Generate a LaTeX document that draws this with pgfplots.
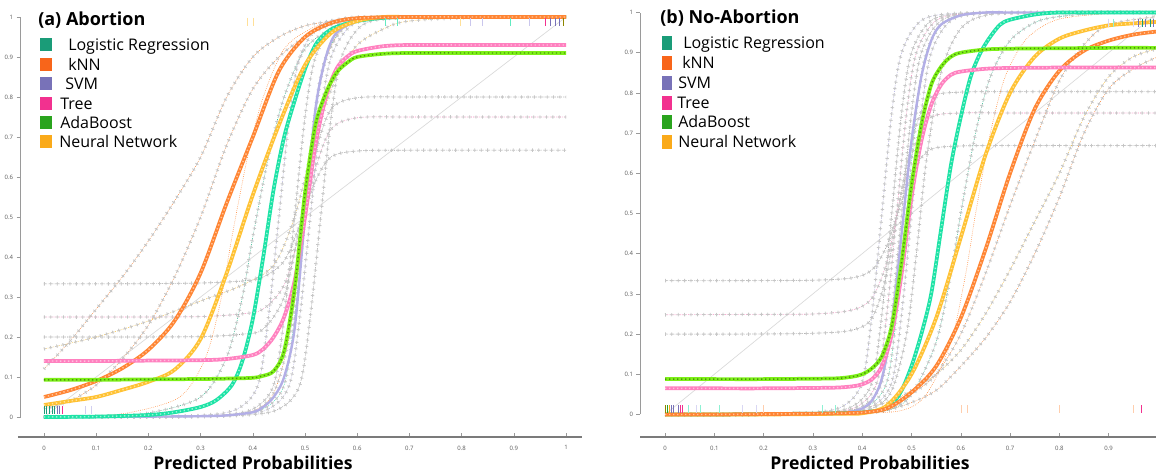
\documentclass[border=0pt]{standalone}
\usepackage{fontspec}
\setmainfont{Open Sans}
\usepackage{pgfplots}
\usepackage{pgfplotstable}
\pgfplotsset{compat=1.18}

\definecolor{lrC}{HTML}{1DE3A6}
\definecolor{knnC}{HTML}{FF8533}
\definecolor{svmC}{HTML}{B3AFE6}
\definecolor{treeC}{HTML}{FF80BF}
\definecolor{adaC}{HTML}{7DF018}
\definecolor{nnC}{HTML}{FFC233}
\definecolor{lrL}{HTML}{1A9C78}
\definecolor{knnL}{HTML}{F8651A}
\definecolor{svmL}{HTML}{7872B8}
\definecolor{treeL}{HTML}{F2318F}
\definecolor{adaL}{HTML}{2AA41E}
\definecolor{nnL}{HTML}{FAAA1A}
\definecolor{axisgray}{HTML}{9A9A9A}

\tikzset{
  gcurve/.style={smooth,tension=0.5,line width=0.45pt,densely dotted,
     postaction={draw=gray!45,solid,line width=2.6pt,dash pattern=on 0.6pt off 4.2pt},
     postaction={draw=gray!45,solid,line width=0.6pt,dash pattern=on 2.6pt off 2.2pt,dash phase=1pt}},
  thincurve/.style={smooth,tension=0.5,line width=0.45pt,densely dotted},
  maincurve/.style={smooth,tension=0.5,line width=2.8pt},
  dots/.style={smooth,tension=0.5,line width=1.1pt,dash pattern=on 1pt off 2pt},
}

\pgfplotsset{
  calib/.style={
    scale only axis,
    clip=false,
    axis line style={draw=none},
    ytick={0,0.1,...,1},
    tick pos=left,
    tick align=inside,
    major tick length=3pt,
    tick style={axisgray,line width=0.4pt},
    y tick style={xshift=-3pt},
    tick label style={font=\fontsize{4.5}{5}\selectfont,text=gray!70!black},
    yticklabel style={xshift=-2pt},
    xticklabel style={yshift=-3pt},
    /pgf/number format/assume math mode=true,
  }
}

% ---------- (a) Abortion ----------
\pgfplotstableread{
x y
0 0
0.1 0.001
0.2 0.005
0.25 0.012
0.3 0.025
0.33 0.042
0.36 0.08
0.38 0.14
0.4 0.245
0.42 0.4
0.44 0.57
0.46 0.7
0.48 0.79
0.5 0.87
0.52 0.93
0.54 0.96
0.56 0.975
0.6 0.99
0.65 0.998
0.7 1
0.8 1
0.9 1
1 1
}\lrA
\pgfplotstableread{
x y
0 0.05
0.05 0.067
0.1 0.09
0.15 0.122
0.2 0.168
0.25 0.24
0.3 0.36
0.35 0.535
0.4 0.7
0.45 0.865
0.5 0.95
0.55 0.985
0.6 0.997
0.7 1
0.8 1
0.9 1
1 1
}\knnA
\pgfplotstableread{
x y
0 0
0.1 0
0.2 0.001
0.3 0.002
0.35 0.004
0.4 0.012
0.42 0.025
0.44 0.05
0.46 0.1
0.48 0.22
0.5 0.5
0.52 0.77
0.54 0.9
0.56 0.96
0.6 0.99
0.65 1
0.7 1
0.8 1
0.9 1
1 1
}\svmA
\pgfplotstableread{
x y
0 0.14
0.1 0.14
0.2 0.141
0.3 0.142
0.35 0.145
0.4 0.155
0.42 0.17
0.44 0.2
0.46 0.25
0.48 0.34
0.5 0.5
0.52 0.68
0.54 0.8
0.56 0.87
0.58 0.9
0.6 0.915
0.65 0.927
0.7 0.93
0.8 0.93
0.9 0.93
1 0.93
}\treeA
\pgfplotstableread{
x y
0 0.093
0.1 0.093
0.2 0.094
0.3 0.095
0.35 0.096
0.4 0.098
0.42 0.103
0.44 0.115
0.46 0.165
0.48 0.32
0.5 0.56
0.52 0.73
0.54 0.81
0.56 0.86
0.58 0.885
0.6 0.9
0.65 0.908
0.7 0.91
0.8 0.91
0.9 0.91
1 0.91
}\adaA
\pgfplotstableread{
x y
0 0.03
0.05 0.04
0.1 0.05
0.15 0.068
0.2 0.088
0.25 0.118
0.3 0.195
0.35 0.36
0.4 0.555
0.45 0.73
0.5 0.88
0.55 0.96
0.6 0.99
0.65 1
0.7 1
0.8 1
0.9 1
1 1
}\nnA

% ---------- (b) No-Abortion ----------
\pgfplotstableread{
x y
0 0
0.1 0
0.2 0.001
0.3 0.002
0.35 0.003
0.4 0.005
0.42 0.008
0.44 0.012
0.46 0.025
0.48 0.06
0.5 0.12
0.52 0.2
0.54 0.3
0.56 0.46
0.58 0.62
0.6 0.74
0.62 0.84
0.64 0.9
0.66 0.94
0.68 0.97
0.7 0.982
0.75 0.995
0.8 1
0.9 1
1 1
}\lrB
\pgfplotstableread{
x y
0 0
0.1 0
0.2 0.001
0.3 0.002
0.35 0.003
0.4 0.005
0.45 0.015
0.5 0.055
0.55 0.12
0.6 0.24
0.65 0.41
0.7 0.6
0.75 0.76
0.8 0.855
0.85 0.905
0.9 0.93
0.95 0.945
1 0.953
}\knnB
\pgfplotstableread{
x y
0 0
0.1 0
0.2 0
0.3 0.002
0.35 0.004
0.38 0.008
0.4 0.015
0.42 0.035
0.44 0.09
0.46 0.22
0.48 0.45
0.5 0.68
0.52 0.84
0.54 0.93
0.56 0.97
0.6 0.993
0.65 1
0.7 1
0.8 1
0.9 1
1 1
}\svmB
\pgfplotstableread{
x y
0 0.065
0.1 0.065
0.2 0.065
0.3 0.066
0.35 0.067
0.38 0.07
0.4 0.075
0.42 0.088
0.44 0.12
0.46 0.2
0.48 0.35
0.5 0.54
0.52 0.68
0.54 0.77
0.56 0.82
0.58 0.845
0.6 0.853
0.65 0.86
0.7 0.862
0.8 0.863
0.9 0.863
1 0.863
}\treeB
\pgfplotstableread{
x y
0 0.088
0.1 0.088
0.2 0.088
0.3 0.089
0.35 0.09
0.38 0.094
0.4 0.1
0.42 0.115
0.44 0.145
0.46 0.22
0.48 0.38
0.5 0.57
0.52 0.72
0.54 0.82
0.56 0.865
0.58 0.89
0.6 0.9
0.65 0.908
0.7 0.91
0.8 0.911
0.9 0.912
1 0.912
}\adaB
\pgfplotstableread{
x y
0 0
0.1 0
0.2 0
0.3 0.001
0.35 0.002
0.4 0.003
0.45 0.022
0.5 0.1
0.55 0.24
0.6 0.44
0.65 0.645
0.7 0.8
0.75 0.89
0.8 0.935
0.85 0.955
0.9 0.968
0.95 0.973
1 0.977
}\nnB

\begin{document}
\begin{tikzpicture}
\useasboundingbox (0,0) rectangle (867pt,356.25pt);

% ================= panel (a) =================
\begin{axis}[calib,
  at={(15.375pt,28.5pt)}, anchor=south west,
  width=420.9pt, height=321pt,
  xtick={0,0.1,...,1},
  xmin=-0.045, xmax=1.03, ymin=-0.05, ymax=1.02]
\draw[axisgray,line width=0.6pt] (axis cs:-0.045,0) -- (axis cs:-0.045,1);
\draw[axisgray!80!black,line width=0.8pt] (axis cs:-0.05,-0.05) -- (axis cs:1.03,-0.05);
\addplot[gray!30,line width=0.5pt] coordinates {(0,0) (1,1)};
% per-fold curves
\addplot[gcurve,gray!80] coordinates {(0,0.333) (0.15,0.333) (0.3,0.335) (0.38,0.34) (0.42,0.35) (0.46,0.39) (0.49,0.48) (0.52,0.59) (0.55,0.65) (0.6,0.665) (0.7,0.667) (0.85,0.667) (1,0.667)};
\addplot[gcurve,treeC] coordinates {(0,0.25) (0.15,0.25) (0.3,0.251) (0.38,0.258) (0.42,0.27) (0.46,0.33) (0.49,0.46) (0.52,0.62) (0.55,0.72) (0.6,0.748) (0.7,0.75) (0.85,0.75) (1,0.75)};
\addplot[gcurve,gray!80] coordinates {(0,0.2) (0.15,0.2) (0.3,0.201) (0.38,0.207) (0.42,0.22) (0.46,0.3) (0.49,0.48) (0.52,0.66) (0.55,0.77) (0.6,0.798) (0.7,0.8) (0.85,0.8) (1,0.8)};
\addplot[gcurve,knnC] coordinates {(0,0.12) (0.05,0.19) (0.1,0.27) (0.15,0.35) (0.2,0.44) (0.25,0.54) (0.3,0.65) (0.35,0.8) (0.4,0.9) (0.45,0.95) (0.5,0.978) (0.55,0.99) (0.6,1) (0.7,1) (0.85,1) (1,1)};
\addplot[gcurve,knnC] coordinates {(0,0.02) (0.05,0.04) (0.1,0.08) (0.15,0.145) (0.2,0.23) (0.25,0.35) (0.3,0.5) (0.35,0.68) (0.4,0.82) (0.45,0.9) (0.5,0.95) (0.55,0.98) (0.6,0.995) (0.7,1) (0.85,1) (1,1)};
\addplot[gcurve,nnC] coordinates {(0,0.17) (0.1,0.2) (0.2,0.24) (0.3,0.29) (0.38,0.33) (0.44,0.38) (0.48,0.5) (0.52,0.7) (0.56,0.85) (0.6,0.93) (0.65,0.97) (0.7,0.99) (0.85,1) (1,1)};
\addplot[gcurve,lrC!80!black] coordinates {(0,0) (0.1,0.002) (0.2,0.01) (0.3,0.05) (0.35,0.15) (0.38,0.3) (0.4,0.45) (0.43,0.65) (0.46,0.8) (0.5,0.92) (0.55,0.97) (0.6,0.99) (0.7,1) (0.85,1) (1,1)};
\addplot[thincurve,knnC] coordinates {(0,0) (0.08,0.003) (0.16,0.01) (0.26,0.05) (0.31,0.15) (0.34,0.3) (0.36,0.45) (0.39,0.65) (0.42,0.8) (0.46,0.92) (0.51,0.97) (0.56,0.99) (0.66,1) (0.8,1) (1,1)};
\addplot[gcurve,svmC] coordinates {(0,0) (0.15,0) (0.3,0.004) (0.37,0.02) (0.41,0.08) (0.43,0.25) (0.45,0.5) (0.47,0.75) (0.49,0.9) (0.53,0.98) (0.6,0.998) (0.75,1) (1,1)};
\addplot[gcurve,gray!80] coordinates {(0,0) (0.18,0) (0.33,0.004) (0.4,0.02) (0.44,0.08) (0.46,0.25) (0.48,0.5) (0.5,0.75) (0.52,0.9) (0.56,0.98) (0.63,0.998) (0.78,1) (1,1)};
\addplot[gcurve,lrC] coordinates {(0,0) (0.2,0) (0.35,0.004) (0.42,0.02) (0.46,0.08) (0.48,0.25) (0.5,0.5) (0.52,0.75) (0.54,0.9) (0.58,0.98) (0.65,0.998) (0.8,1) (1,1)};
\addplot[gcurve,svmC] coordinates {(0,0) (0.21,0) (0.36,0.004) (0.43,0.02) (0.47,0.08) (0.49,0.25) (0.51,0.5) (0.53,0.75) (0.55,0.9) (0.59,0.98) (0.66,0.998) (0.81,1) (1,1)};
\addplot[gcurve,gray!80] coordinates {(0,0) (0.23,0) (0.38,0.004) (0.45,0.02) (0.49,0.08) (0.51,0.25) (0.53,0.5) (0.55,0.75) (0.57,0.9) (0.61,0.98) (0.68,0.998) (0.83,1) (1,1)};
\addplot[gcurve,knnC] coordinates {(0,0) (0.2,0) (0.33,0.004) (0.4,0.015) (0.44,0.06) (0.47,0.2) (0.49,0.4) (0.51,0.66) (0.53,0.85) (0.56,0.95) (0.6,0.99) (0.7,1) (0.85,1) (1,1)};
% models
\addplot[maincurve,svmC,line width=1.8pt] table {\svmA};
\addplot[maincurve,lrC] table {\lrA};
\addplot[dots,white!55!lrC] table {\lrA};
\addplot[maincurve,nnC] table {\nnA};
\addplot[dots,white!50!nnC] table {\nnA};
\addplot[maincurve,knnC] table {\knnA};
\addplot[dots,white!50!knnC] table {\knnA};
\addplot[maincurve,treeC] table {\treeA};
\addplot[dots,white!50!treeC] table {\treeA};
\addplot[maincurve,adaC] table {\adaA};
\addplot[dots,adaC!60!black] table {\adaA};
% rug
\addplot[only marks,mark=|,mark size=3.2pt,lrL] coordinates {(0,0.017) (0.005,0.017) (0.01,0.017) (0.015,0.017) (0.02,0.017)};
\addplot[only marks,mark=|,mark size=3.2pt,svmL] coordinates {(0.025,0.017) (0.03,0.017)};
\addplot[only marks,mark=|,mark size=3.2pt,treeL] coordinates {(0.035,0.017)};
\addplot[only marks,mark=|,mark size=3.2pt,svmC!60] coordinates {(0.08,0.017) (0.09,0.017)};
\addplot[only marks,mark=|,mark size=3.2pt,nnC!50] coordinates {(0.39,0.988) (0.4,0.988) (0.797,0.988)};
\addplot[only marks,mark=|,mark size=3.2pt,lrC!70] coordinates {(0.653,0.988) (0.676,0.988) (0.893,0.988)};
\addplot[only marks,mark=|,mark size=3.2pt,svmC!70] coordinates {(0.816,0.988) (0.84,0.988) (0.93,0.988)};
\addplot[only marks,mark=|,mark size=3.2pt,treeL] coordinates {(0.96,0.988)};
\addplot[only marks,mark=|,mark size=3.2pt,svmL] coordinates {(0.97,0.988) (0.98,0.988) (0.987,0.988)};
\addplot[only marks,mark=|,mark size=3.2pt,olive] coordinates {(0.994,0.988)};
\end{axis}

% ================= panel (b) =================
\begin{axis}[calib,
  at={(480.26pt,28.5pt)}, anchor=south west,
  width=388.2pt, height=324.4pt,
  xtick={0,0.1,0.2,0.3,0.4,0.5,0.6,0.7,0.8,0.9},
  xmin=-0.05, xmax=1.0, ymin=-0.056, ymax=1.02]
\draw[axisgray,line width=0.6pt] (axis cs:-0.05,0) -- (axis cs:-0.05,1);
\draw[axisgray!80!black,line width=0.8pt] (axis cs:-0.05,-0.056) -- (axis cs:1.05,-0.056);
\addplot[gray!30,line width=0.5pt] coordinates {(0,0) (1,1)};
% per-fold curves
\addplot[gcurve,gray!80] coordinates {(0,0.333) (0.15,0.333) (0.3,0.334) (0.38,0.34) (0.42,0.36) (0.45,0.42) (0.48,0.53) (0.51,0.62) (0.54,0.66) (0.6,0.668) (0.7,0.669) (0.85,0.669) (1,0.669)};
\addplot[gcurve,treeC] coordinates {(0,0.248) (0.15,0.249) (0.3,0.25) (0.38,0.26) (0.42,0.29) (0.45,0.38) (0.48,0.55) (0.51,0.68) (0.54,0.74) (0.6,0.75) (0.7,0.75) (0.85,0.75) (1,0.75)};
\addplot[gcurve,gray!80] coordinates {(0,0.2) (0.15,0.2) (0.3,0.202) (0.38,0.21) (0.42,0.24) (0.45,0.35) (0.48,0.56) (0.51,0.72) (0.54,0.79) (0.6,0.802) (0.7,0.803) (0.85,0.803) (1,0.803)};
\addplot[gcurve,knnC] coordinates {(0,0) (0.2,0.001) (0.35,0.003) (0.45,0.012) (0.5,0.03) (0.55,0.06) (0.6,0.12) (0.65,0.19) (0.7,0.28) (0.75,0.4) (0.8,0.54) (0.85,0.7) (0.9,0.81) (0.95,0.86) (1,0.89)};
\addplot[gcurve,nnC] coordinates {(0,0) (0.2,0.002) (0.35,0.006) (0.45,0.03) (0.5,0.06) (0.55,0.1) (0.6,0.16) (0.65,0.25) (0.7,0.36) (0.75,0.48) (0.8,0.6) (0.85,0.74) (0.9,0.84) (0.95,0.89) (1,0.91)};
\addplot[gcurve,knnC] coordinates {(0,0) (0.2,0.001) (0.35,0.004) (0.45,0.01) (0.5,0.05) (0.55,0.1) (0.6,0.2) (0.65,0.35) (0.7,0.52) (0.75,0.68) (0.8,0.83) (0.85,0.92) (0.9,0.97) (1,0.99)};
\addplot[gcurve,lrC!80!black] coordinates {(0,0) (0.2,0.001) (0.35,0.003) (0.45,0.01) (0.5,0.05) (0.55,0.18) (0.58,0.35) (0.6,0.5) (0.63,0.7) (0.66,0.84) (0.7,0.93) (0.75,0.975) (0.8,0.99) (0.9,1) (1,1)};
\addplot[thincurve,knnC] coordinates {(0,0) (0.2,0.001) (0.38,0.003) (0.48,0.01) (0.53,0.05) (0.58,0.18) (0.61,0.35) (0.63,0.5) (0.66,0.7) (0.69,0.84) (0.73,0.93) (0.78,0.975) (0.83,0.99) (0.93,1) (1,1)};
\addplot[gcurve,svmC] coordinates {(0,0) (0.14,0) (0.29,0.004) (0.36,0.02) (0.4,0.08) (0.42,0.25) (0.44,0.5) (0.46,0.75) (0.48,0.9) (0.52,0.98) (0.59,0.998) (0.74,1) (1,1)};
\addplot[gcurve,gray!80] coordinates {(0,0) (0.16,0) (0.31,0.004) (0.38,0.02) (0.42,0.08) (0.44,0.25) (0.46,0.5) (0.48,0.75) (0.5,0.9) (0.54,0.98) (0.61,0.998) (0.76,1) (1,1)};
\addplot[gcurve,treeC] coordinates {(0,0) (0.17,0) (0.32,0.004) (0.39,0.02) (0.43,0.08) (0.45,0.25) (0.47,0.5) (0.49,0.75) (0.51,0.9) (0.55,0.98) (0.62,0.998) (0.77,1) (1,1)};
\addplot[gcurve,gray!80] coordinates {(0,0) (0.18,0) (0.33,0.004) (0.4,0.02) (0.44,0.08) (0.46,0.25) (0.48,0.5) (0.5,0.75) (0.52,0.9) (0.56,0.98) (0.63,0.998) (0.78,1) (1,1)};
\addplot[gcurve,lrC] coordinates {(0,0) (0.19,0) (0.34,0.004) (0.41,0.02) (0.45,0.08) (0.47,0.25) (0.49,0.5) (0.51,0.75) (0.53,0.9) (0.57,0.98) (0.64,0.998) (0.79,1) (1,1)};
\addplot[gcurve,svmC] coordinates {(0,0) (0.2,0) (0.35,0.004) (0.42,0.02) (0.46,0.08) (0.48,0.25) (0.5,0.5) (0.52,0.75) (0.54,0.9) (0.58,0.98) (0.65,0.998) (0.8,1) (1,1)};
\addplot[gcurve,gray!80] coordinates {(0,0) (0.2,0) (0.35,0.004) (0.42,0.015) (0.46,0.06) (0.49,0.2) (0.51,0.4) (0.53,0.63) (0.56,0.85) (0.6,0.96) (0.66,0.995) (0.8,1) (1,1)};
% models
\addplot[maincurve,svmC,line width=1.8pt] table {\svmB};
\addplot[maincurve,lrC] table {\lrB};
\addplot[dots,white!55!lrC] table {\lrB};
\addplot[maincurve,nnC] table {\nnB};
\addplot[dots,white!50!nnC] table {\nnB};
\addplot[maincurve,knnC] table {\knnB};
\addplot[dots,white!50!knnC] table {\knnB};
\addplot[maincurve,treeC] table {\treeB};
\addplot[dots,white!50!treeC] table {\treeB};
\addplot[maincurve,adaC] table {\adaB};
\addplot[dots,adaC!60!black] table {\adaB};
% rug
\addplot[only marks,mark=|,mark size=3pt,olive] coordinates {(0,0.013)};
\addplot[only marks,mark=|,mark size=3pt,adaL] coordinates {(0.004,0.013)};
\addplot[only marks,mark=|,mark size=3pt,nnL] coordinates {(0.008,0.013)};
\addplot[only marks,mark=|,mark size=3pt,svmL] coordinates {(0.013,0.013) (0.017,0.013) (0.026,0.013)};
\addplot[only marks,mark=|,mark size=3pt,treeL] coordinates {(0.031,0.013) (0.035,0.013) (0.967,0.013)};
\addplot[only marks,mark=|,mark size=3pt,lrC!50] coordinates {(0.047,0.013) (0.072,0.013) (0.11,0.013) (0.32,0.013) (0.346,0.013) (0.91,0.975)};
\addplot[only marks,mark=|,mark size=3pt,svmC!50] coordinates {(0.064,0.013) (0.157,0.013) (0.185,0.013) (0.9,0.975) (0.95,0.975)};
\addplot[only marks,mark=|,mark size=3pt,knnC!40] coordinates {(0.2,0.013) (0.6,0.013) (0.613,0.013) (0.8,0.013) (0.95,0.013)};
\addplot[only marks,mark=|,mark size=3pt,svmL] coordinates {(0.96,0.975) (0.975,0.975) (0.99,0.975)};
\addplot[only marks,mark=|,mark size=3pt,lrL] coordinates {(0.968,0.975) (0.985,0.975)};
\end{axis}

% ================= titles, legends, axis titles =================
\begin{scope}[x=0.75pt,y=-0.75pt,shift={(0,356.25pt)}]
\node[anchor=west,inner sep=0,font=\bfseries\fontsize{13.5}{16}\selectfont] at (38,20) {(a) Abortion};
\node[anchor=west,inner sep=0,font=\bfseries\fontsize{13.5}{16}\selectfont] at (660,18) {(b) No-Abortion};
\begin{scope}[every node/.style={anchor=base west,inner sep=0,font=\fontsize{12}{14}\selectfont}]
\fill[lrL]   (40,38.5) rectangle (52,51.5);  \node at (68,51) {Logistic Regression};
\fill[knnL]  (40,57.9) rectangle (52,70.9);  \node at (68,70.4) {kNN};
\fill[svmL]  (40,77.3) rectangle (52,90.3);  \node at (65,89.8) {SVM};
\fill[treeL] (40,96.7) rectangle (52,109.7); \node at (60,109.2) {Tree};
\fill[adaL]  (40,116.1) rectangle (52,129.1);\node at (60,128.6) {AdaBoost};
\fill[nnL]   (40,135.5) rectangle (52,148.5);\node at (59,148) {Neural Network};
\fill[lrL]   (662,36) rectangle (672,50);    \node at (683,49) {Logistic Regression};
\fill[knnL]  (662,56) rectangle (672,70);    \node at (682,69) {kNN};
\fill[svmL]  (662,76) rectangle (672,90);    \node at (678,89) {SVM};
\fill[treeL] (662,96) rectangle (672,110);   \node at (677,109) {Tree};
\fill[adaL]  (662,115) rectangle (672,129);  \node at (678,128) {AdaBoost};
\fill[nnL]   (662,135) rectangle (672,149);  \node at (678,148) {Neural Network};
\end{scope}
\node[inner sep=0,font=\bfseries\fontsize{13.2}{15}\selectfont] at (253,463) {Predicted Probabilities};
\node[inner sep=0,font=\bfseries\fontsize{13.2}{15}\selectfont] at (870,463) {Predicted Probabilities};
\end{scope}
\end{tikzpicture}
\end{document}
